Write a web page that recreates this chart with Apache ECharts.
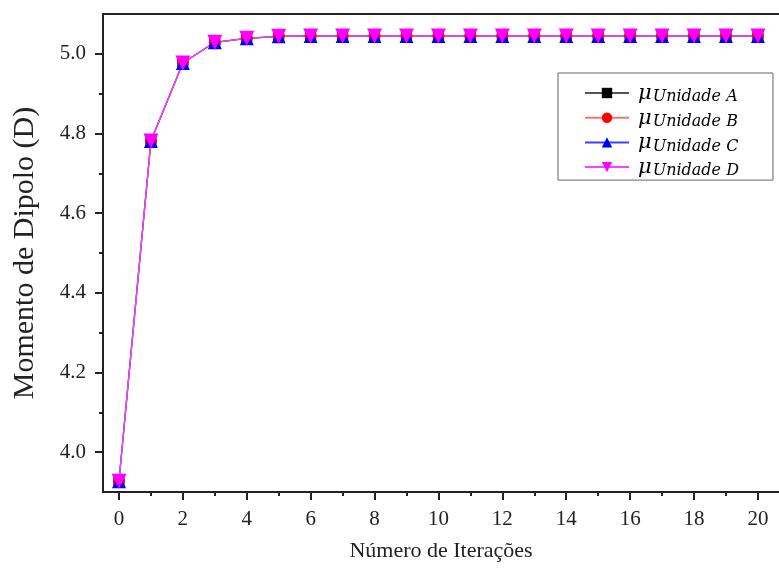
<!DOCTYPE html>
<html>
<head>
<meta charset="utf-8">
<script src="https://cdn.jsdelivr.net/npm/echarts@6/dist/echarts.min.js"></script>
<style>
  html, body { margin: 0; padding: 0; background: #fff; }
  #chart { width: 779px; height: 574px; }
</style>
</head>
<body>
<div id="chart"></div>
<script>
// iterations 0..20
const iterations = [0, 1, 2, 3, 4, 5, 6, 7, 8, 9, 10, 11, 12, 13, 14, 15, 16, 17, 18, 19, 20]
const unidadeA = [3.927, 4.781, 4.977, 5.029, 5.039, 5.044, 5.045, 5.045, 5.045, 5.045, 5.045, 5.045, 5.045, 5.045, 5.045, 5.045, 5.045, 5.045, 5.045, 5.045, 5.045]
const unidadeB = [3.927, 4.781, 4.977, 5.029, 5.039, 5.044, 5.045, 5.045, 5.045, 5.045, 5.045, 5.045, 5.045, 5.045, 5.045, 5.045, 5.045, 5.045, 5.045, 5.045, 5.045]
const unidadeC = [3.927, 4.781, 4.977, 5.029, 5.039, 5.044, 5.045, 5.045, 5.045, 5.045, 5.045, 5.045, 5.045, 5.045, 5.045, 5.045, 5.045, 5.045, 5.045, 5.045, 5.045]
const unidadeD = [3.927, 4.781, 4.977, 5.029, 5.039, 5.044, 5.045, 5.045, 5.045, 5.045, 5.045, 5.045, 5.045, 5.045, 5.045, 5.045, 5.045, 5.045, 5.045, 5.045, 5.045]
const xMajorTicks = [0, 2, 4, 6, 8, 10, 12, 14, 16, 18, 20]
const xMinorTicks = [1, 3, 5, 7, 9, 11, 13, 15, 17, 19]
const yMajorTicks = [4.0, 4.2, 4.4, 4.6, 4.8, 5.0]
const yMinorTicks = [4.1, 4.3, 4.5, 4.7, 4.9]
const units = ['Unidade A', 'Unidade B', 'Unidade C', 'Unidade D']

const serif = '"Liberation Serif", "DejaVu Serif", serif'
const axisColor = '#222'

const chart = echarts.init(document.getElementById('chart'))

const seriesStyle = [
  { data: unidadeA, symbol: 'rect', rotate: 0, size: 11, color: '#000000', line: '#555555' },
  { data: unidadeB, symbol: 'circle', rotate: 0, size: 12, color: '#ff0000', line: '#ff7070' },
  { data: unidadeC, symbol: 'triangle', rotate: 0, size: 14, color: '#0000ff', line: '#4040ff' },
  { data: unidadeD, symbol: 'triangle', rotate: 180, size: 15, color: '#ff00ff', line: '#ff40ff' }
]

const series = seriesStyle.map((s, i) => ({
  name: units[i],
  type: 'line',
  xAxisIndex: 0,
  yAxisIndex: 0,
  data: iterations.map((x, j) => [x, s.data[j]]),
  symbol: s.symbol,
  symbolRotate: s.rotate,
  symbolSize: s.size,
  showAllSymbol: true,
  itemStyle: { color: s.color, borderWidth: 0 },
  lineStyle: { color: s.line, width: 1.3 },
  animation: false
}))

const baseX = {
  type: 'value',
  min: -0.5,
  max: 20.66,
  splitLine: { show: false }
}
const baseY = {
  type: 'value',
  min: 3.9,
  max: 5.1,
  splitLine: { show: false }
}

chart.setOption({
  backgroundColor: '#fff',
  grid: {
    left: 103,
    right: 0,
    top: 14,
    bottom: 82,
    show: false
  },
  xAxis: [
    Object.assign({}, baseX, {
      position: 'bottom',
      name: 'Número de Iterações',
      nameLocation: 'middle',
      nameGap: 48,
      nameTextStyle: { fontFamily: serif, fontSize: 22, color: '#222' },
      axisLine: { show: true, onZero: false, lineStyle: { color: axisColor, width: 2 } },
      axisTick: { show: true, customValues: xMajorTicks, length: 8, lineStyle: { color: axisColor, width: 2 } },
      axisLabel: { customValues: xMajorTicks, margin: 17, fontFamily: serif, fontSize: 21, color: '#222' }
    }),
    Object.assign({}, baseX, {
      position: 'bottom',
      axisLine: { show: false, onZero: false },
      axisTick: { show: true, customValues: xMinorTicks, length: 4, lineStyle: { color: axisColor, width: 2 } },
      axisLabel: { show: false }
    }),
    Object.assign({}, baseX, {
      position: 'top',
      axisLine: { show: true, onZero: false, lineStyle: { color: axisColor, width: 2 } },
      axisTick: { show: false },
      axisLabel: { show: false }
    })
  ],
  yAxis: [
    Object.assign({}, baseY, {
      position: 'left',
      name: 'Momento de Dipolo (D)',
      nameLocation: 'middle',
      nameGap: 63,
      nameRotate: 90,
      nameTextStyle: { fontFamily: serif, fontSize: 30, color: '#222' },
      axisLine: { show: true, onZero: false, lineStyle: { color: axisColor, width: 2 } },
      axisTick: { show: true, customValues: yMajorTicks, length: 8, lineStyle: { color: axisColor, width: 2 } },
      axisLabel: {
        customValues: yMajorTicks,
        margin: 17,
        fontFamily: serif,
        fontSize: 21,
        color: '#222',
        formatter: v => v.toFixed(1)
      }
    }),
    Object.assign({}, baseY, {
      position: 'left',
      axisLine: { show: false, onZero: false },
      axisTick: { show: true, customValues: yMinorTicks, length: 4, lineStyle: { color: axisColor, width: 2 } },
      axisLabel: { show: false }
    })
  ],
  legend: {
    orient: 'vertical',
    left: 558,
    top: 73,
    padding: [8, 34, 1, 26],
    itemWidth: 44,
    itemHeight: 13,
    itemGap: 0.7,
    backgroundColor: '#fff',
    borderColor: '#666',
    borderWidth: 1,
    borderRadius: 0,
    data: units,
    formatter: name => '{mu|μ}{sub|' + name + '}',
    textStyle: {
      rich: {
        mu: { fontFamily: '"DejaVu Serif", serif', fontStyle: 'italic', fontSize: 21, color: '#000', verticalAlign: 'bottom', lineHeight: 22, padding: [0, 0, 0, 4] },
        sub: { fontFamily: '"DejaVu Serif", serif', fontStyle: 'italic', fontSize: 16, color: '#000', padding: [8, 0, 0, 1], lineHeight: 22 }
      }
    }
  },
  series: series
})
</script>
</body>
</html>
